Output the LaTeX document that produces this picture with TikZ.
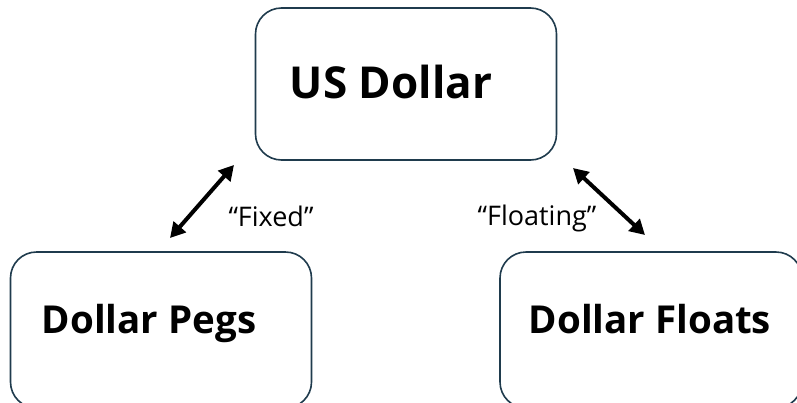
\documentclass[tikz,border=0pt]{standalone}
\usepackage{fontspec}
\setmainfont{Open Sans}
\usetikzlibrary{arrows.meta}
\definecolor{boxline}{HTML}{1F3B4D}
\begin{document}
\begin{tikzpicture}[x=1pt,y=-1pt,
  box/.style={draw=boxline,line width=1.6pt,rounded corners=26pt,fill=white,inner sep=0pt},
  title/.style={font=\bfseries\fontsize{38.5}{42}\selectfont,inner sep=0pt,anchor=base},
  lab/.style={font=\fontsize{27}{30}\selectfont,inner sep=0pt,anchor=base},
  link/.style={line width=4pt,{Triangle[length=15pt,width=16pt]}-{Triangle[length=15pt,width=16pt]}}]
\useasboundingbox (0,0) rectangle (797,402);
\clip (0,0) rectangle (797,402);
\node[box,minimum width=301pt,minimum height=152pt] (usd) at (406,84) {};
\node[box,minimum width=301pt,minimum height=156pt] (pegs) at (161,330) {};
\node[box,minimum width=302pt,minimum height=156pt] (floats) at (651,330) {};
\node[title,font=\bfseries\fontsize{44}{48}\selectfont] (usdt) at (391,98) {US Dollar};
\node[title] (pegst) at (149,333) {Dollar Pegs};
\node[title] (floatst) at (650,333) {Dollar Floats};
\coordinate (f1) at (234,165);
\coordinate (f2) at (170,238);
\coordinate (g1) at (573,168);
\coordinate (g2) at (645,235);
\draw[link] (f1) -- (f2);
\draw[link] (g1) -- (g2);
\node[lab] (fixed) at (271,226) {“Fixed”};
\node[lab] (floating) at (537,225) {“Floating”};
\end{tikzpicture}
\end{document}
